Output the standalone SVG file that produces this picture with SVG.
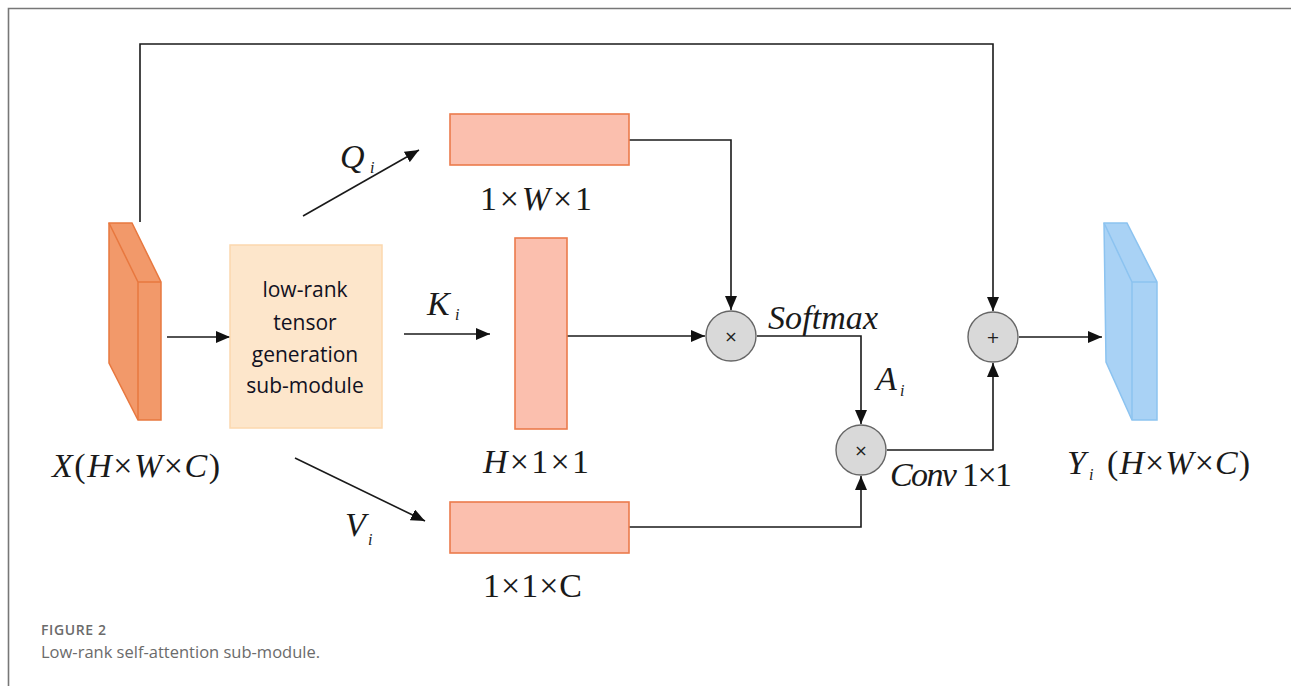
<svg xmlns="http://www.w3.org/2000/svg" width="1291" height="686" viewBox="0 0 1291 686">
<defs>
<style>
.ln{fill:none;stroke:#1a1a1a;stroke-width:1.6}
.m{font-family:"Liberation Serif","Times New Roman",serif;font-size:34px;fill:#1a1a1a}
.it{font-style:italic}
.sub{font-family:"Liberation Serif","Times New Roman",serif;font-style:italic;font-size:16px;fill:#1a1a1a}
.tens{fill:#FBBFAE;stroke:#EC7B4C;stroke-width:1.6}
.op{fill:#D9D9D9;stroke:#666;stroke-width:1.4}
.opt{font-family:"DejaVu Sans",sans-serif;font-size:16px;fill:#222;text-anchor:middle}
.box{font-family:"Open Sans","Noto Sans",sans-serif;font-size:21px;fill:#111122;text-anchor:middle}
.cap{font-family:"Open Sans","Noto Sans",sans-serif;fill:#6b6b6b}
</style>
<marker id="ah" markerUnits="userSpaceOnUse" markerWidth="16" markerHeight="12" refX="14" refY="6" orient="auto">
<path d="M0,0 L14,6 L0,12 Z" fill="#111"/>
</marker>
</defs>
<rect width="1291" height="686" fill="#fff"/>
<path d="M8.5,686 V8.5 H1291" fill="none" stroke="#777" stroke-width="1.6"/>

<g id="connectors">
<path class="ln" d="M140,222 V44 H993 V311" marker-end="url(#ah)"/>
<path class="ln" d="M167,337 H230" marker-end="url(#ah)"/>
<path class="ln" d="M303,216 L419,150" marker-end="url(#ah)"/>
<path class="ln" d="M404,334 H490" marker-end="url(#ah)"/>
<path class="ln" d="M295,458 L425,521" marker-end="url(#ah)"/>
<path class="ln" d="M629,140 H731 V310" marker-end="url(#ah)"/>
<path class="ln" d="M567,336 H705" marker-end="url(#ah)"/>
<path class="ln" d="M757,336 H861 V424" marker-end="url(#ah)"/>
<path class="ln" d="M629,527 H861 V476" marker-end="url(#ah)"/>
<path class="ln" d="M887,450 H993 V363" marker-end="url(#ah)"/>
<path class="ln" d="M1019,337 H1102" marker-end="url(#ah)"/>
</g>

<g id="X">
<polygon points="109,223 132,223 161,282 161,420 138,420 109,363" fill="#F2996A" stroke="#E8783F" stroke-width="1.5"/>
<path d="M109,223 L138,282 H161 M138,282 V420" fill="none" stroke="#E8783F" stroke-width="1.5"/>
<text class="m" x="52" y="477" textLength="168"><tspan class="it">X</tspan>(<tspan class="it">H</tspan>×<tspan class="it">W</tspan>×<tspan class="it">C</tspan>)</text>
</g>

<g id="lowrank">
<rect x="230" y="245" width="152" height="183" fill="#FDE6CB" stroke="#FCD8AE" stroke-width="1.5"/>
<text class="box" x="305" y="297">low-rank</text>
<text class="box" x="305" y="330">tensor</text>
<text class="box" x="305" y="362">generation</text>
<text class="box" x="305" y="393">sub-module</text>
</g>

<g id="Q">
<rect class="tens" x="450" y="114" width="179" height="51"/>
<text class="m" x="480" y="210" textLength="112">1×<tspan class="it">W</tspan>×1</text>
<text class="m it" x="340" y="168">Q</text>
<text class="sub" x="370" y="173">i</text>
</g>

<g id="K">
<rect class="tens" x="515" y="238" width="52" height="191"/>
<text class="m" x="483" y="473" textLength="106"><tspan class="it">H</tspan>×1×1</text>
<text class="m it" x="427" y="315">K</text>
<text class="sub" x="455" y="320">i</text>
</g>

<g id="V">
<rect class="tens" x="450" y="502" width="179" height="51"/>
<text class="m" x="483" y="597" textLength="99">1×1×C</text>
<text class="m it" x="345" y="536">V</text>
<text class="sub" x="368" y="545">i</text>
</g>

<g id="mul1">
<circle class="op" cx="731" cy="336" r="25"/>
<text class="opt" x="731" y="342">×</text>
<text class="m it" x="768" y="329" textLength="110">Softmax</text>
</g>

<g id="mul2">
<circle class="op" cx="861" cy="450" r="25"/>
<text class="opt" x="861" y="456">×</text>
<text class="m it" x="876" y="390">A</text>
<text class="sub" x="900" y="396">i</text>
<text class="m" x="890" y="486" textLength="122"><tspan class="it">Conv</tspan> 1×1</text>
</g>

<g id="add">
<circle class="op" cx="993" cy="337" r="25"/>
<text class="opt" x="993" y="343">+</text>
</g>

<g id="Y">
<polygon points="1104,223 1127,223 1157,282 1157,420 1132,420 1106,362" fill="#A9D2F5" stroke="#8CC3F0" stroke-width="1.5"/>
<path d="M1104,223 L1132,282 H1157 M1132,282 V420" fill="none" stroke="#8CC3F0" stroke-width="1.5"/>
<text class="m it" x="1067" y="474">Y</text>
<text class="sub" x="1089" y="480">i</text>
<text class="m" x="1107" y="474" textLength="143">(<tspan class="it">H</tspan>×<tspan class="it">W</tspan>×<tspan class="it">C</tspan>)</text>
</g>

<g id="caption">
<text class="cap" x="41" y="635" font-size="14" font-weight="600" letter-spacing="0.6">FIGURE 2</text>
<text class="cap" x="41" y="658" font-size="16.5">Low-rank self-attention sub-module.</text>
</g>
</svg>
